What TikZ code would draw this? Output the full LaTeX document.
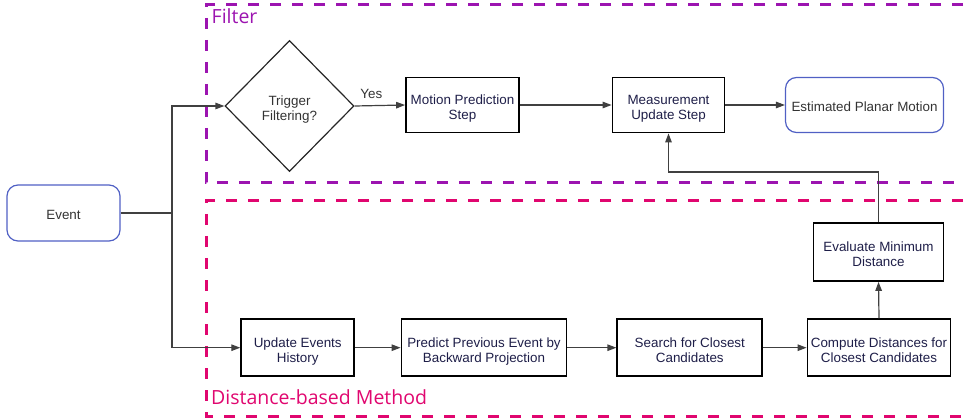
\documentclass[tikz,border=0pt]{standalone}
\usepackage{fontspec}
\setmainfont{Liberation Sans}
\newfontfamily\labfont{Open Sans}
\usetikzlibrary{shapes.geometric,arrows.meta}
\definecolor{filtcol}{HTML}{9C14B0}
\definecolor{distcol}{HTML}{E0066F}
\definecolor{boxtext}{HTML}{1E1E48}
\definecolor{graytext}{HTML}{333333}
\definecolor{linecol}{HTML}{404040}
\definecolor{roundcol}{HTML}{5060C4}
\tikzset{
  boxtxt/.style={font=\fontsize{13.4}{15}\selectfont, align=center},
  twoline/.style={text height=31.6pt, text depth=3pt},
  oneline/.style={text height=16.4pt, text depth=3pt},
  procbox/.style={boxtxt, twoline, draw=black, line width=1.8pt, rectangle, inner sep=0pt, text=boxtext},
  termbox/.style={boxtxt, oneline, draw=roundcol, line width=1.2pt, rectangle, rounded corners=11pt, inner sep=0pt, text=graytext},
  decbox/.style={boxtxt, twoline, draw=black!85, line width=1.2pt, diamond, inner sep=0pt, text=graytext},
  conn/.style={draw=linecol, line width=1.2pt},
  arr/.style={conn, -{Triangle[length=9pt,width=6.5pt]}},
  regionline/.style={line width=3pt, dash pattern=on 11pt off 11pt},
  reglabel/.style={font=\labfont\fontsize{19.5}{23}\selectfont, anchor=base west, inner sep=0pt}
}
\begin{document}
\begin{tikzpicture}[x=1pt,y=-1pt]
\useasboundingbox (0,0) rectangle (965,419);
\clip (0,0) rectangle (965,419);
% regions
\draw[regionline, draw=filtcol] (985,5) -- (206,5) -- (206,183) -- (985,183);
\draw[regionline, draw=distcol] (985,201) -- (206,201) -- (206,416) -- (985,416);
\node[reglabel, text=filtcol] (flab) at (211.5,24) {Filter};
\node[reglabel, text=distcol] (dlab) at (211,404) {Distance-based Method};
% nodes
\node[termbox, minimum width=113pt, minimum height=56pt] (event) at (63.5,213) {Event};
\node[decbox, minimum width=129pt, minimum height=131pt] (trig) at (289.5,106) {Trigger\\Filtering?};
\node[procbox, minimum width=113pt, minimum height=55pt] (motion) at (462.5,105) {Motion Prediction\\Step};
\node[procbox, minimum width=112pt, minimum height=55pt] (meas) at (668.5,105) {Measurement\\Update Step};
\node[termbox, minimum width=158pt, minimum height=55pt] (est) at (864.5,105) {Estimated Planar Motion};
\node[procbox, minimum width=130pt, minimum height=58pt] (evalmin) at (878.5,252) {Evaluate Minimum\\Distance};
\node[procbox, minimum width=143pt, minimum height=57pt] (compute) at (879,347.7) {Compute Distances for\\Closest Candidates};
\node[procbox, minimum width=145pt, minimum height=57pt] (search) at (689.8,347.7) {Search for Closest\\Candidates};
\node[procbox, minimum width=165pt, minimum height=57pt] (predict) at (484,347.7) {Predict Previous Event by\\Backward Projection};
\node[procbox, minimum width=113pt, minimum height=57pt] (update) at (297.7,347.7) {Update Events\\History};
% connectors
\coordinate (junc) at (172,213);
\coordinate (fb) at (668.5,172);
\draw[conn] (event.east) -- (junc);
\draw[arr] (junc) |- (trig.west);
\draw[arr] (junc) |- (update.west);
\draw[arr] (trig.east) -- node[above, pos=0.33, yshift=3pt, font=\fontsize{13.4}{15}\selectfont, text=graytext] (yes) {Yes} (motion.west);
\draw[arr] (motion.east) -- (meas.west);
\draw[arr] (meas.east) -- (est.west);
\draw[arr] (update.east) -- (predict.west);
\draw[arr] (predict.east) -- (search.west);
\draw[arr] (search.east) -- (compute.west);
\draw[arr] (compute.north) -- (evalmin.south);
\draw[arr] (evalmin.north) |- (fb) -- (meas.south);
\end{tikzpicture}
\end{document}
